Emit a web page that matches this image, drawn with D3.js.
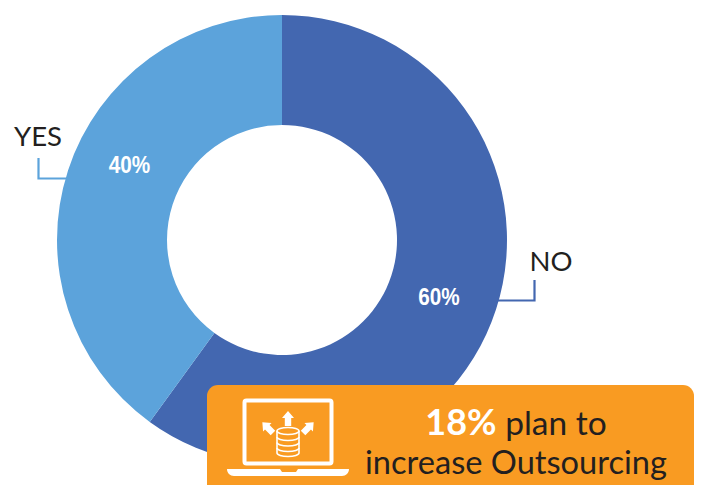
<!DOCTYPE html>
<html>
<head>
<meta charset="utf-8">
<script src="https://cdn.jsdelivr.net/npm/d3@7/dist/d3.min.js"></script>
<style>
  html, body { margin: 0; padding: 0; background: #fff; overflow: hidden; }
  svg { display: block; }
  text { font-family: Lato, "Noto Sans", sans-serif; }
</style>
</head>
<body>
<svg id="chart" width="701" height="485"></svg>
<script>
// Survey answers, clockwise from twelve o'clock
const categories = ["NO", "YES"];
const shares = [60, 40];
const sliceColors = ["#4367b0", "#5ca3db"];
const calloutLead = "18%";
const calloutRest = " plan to";
const calloutSecond = "increase Outsourcing";

const svg = d3.select("#chart");
const cx = 282, cy = 240, outer = 225, inner = 115;

const pie = d3.pie().sort(null).value(d => d.value);
const arc = d3.arc().innerRadius(inner).outerRadius(outer);
const slices = pie(categories.map((name, i) => ({ name, value: shares[i] })));

const ring = svg.append("g").attr("transform", `translate(${cx},${cy})`);
ring.selectAll("path")
  .data(slices)
  .join("path")
  .attr("d", arc)
  .attr("fill", (d, i) => sliceColors[i]);

// Elbow leaders and category names
const leaders = [
  { name: "NO", color: sliceColors[0], path: "M497,300.5H534.5V280", x: 551, y: 271 },
  { name: "YES", color: sliceColors[1], path: "M68,178.5H38.5V158", x: 38, y: 146 }
];
leaders.forEach(l => {
  svg.append("path").attr("d", l.path).attr("fill", "none")
    .attr("stroke", l.color).attr("stroke-width", 2.2);
  svg.append("text").attr("x", l.x).attr("y", l.y)
    .attr("text-anchor", "middle").attr("font-size", 27.5).attr("fill", "#231f20")
    .text(l.name);
});

// Percentage labels on the ring
const pctPos = { NO: [439, 305], YES: [129.5, 173] };
categories.forEach((name, i) => {
  const [x, y] = pctPos[name];
  svg.append("text")
    .attr("transform", `translate(${x},${y}) scale(0.9,1)`)
    .attr("text-anchor", "middle")
    .attr("fill", "#fff")
    .attr("font-size", 23)
    .attr("font-weight", 700)
    .style("font-family", "'Liberation Sans', sans-serif")
    .text(shares[i] + "%");
});

// Orange callout, running off the bottom edge
svg.append("rect")
  .attr("x", 207).attr("y", 385).attr("width", 487).attr("height", 130)
  .attr("rx", 11).attr("fill", "#f99b22");

const line1 = svg.append("text")
  .attr("x", 516).attr("y", 435)
  .attr("text-anchor", "middle").attr("font-size", 33.5).attr("fill", "#231f20");
line1.append("tspan").attr("fill", "#fff").attr("font-weight", 700).attr("font-size", 36).text(calloutLead);
line1.append("tspan").text(calloutRest);
svg.append("text")
  .attr("x", 516).attr("y", 474)
  .attr("text-anchor", "middle").attr("font-size", 32.6).attr("fill", "#231f20")
  .text(calloutSecond);

// Laptop with a database sending arrows outwards
const icon = svg.append("g");
icon.append("rect").attr("x", 244.5).attr("y", 400.5).attr("width", 87).attr("height", 63)
  .attr("rx", 2).attr("fill", "none").attr("stroke", "#fff").attr("stroke-width", 4);
icon.append("path")
  .attr("d", "M227,469H280L282,472H296L298,469H349C349,473 346,476 342,476H234C230,476 227,473 227,469Z")
  .attr("fill", "#fff");

const dbX = 288, dbW = 11, dbTop = 431;
const db = icon.append("g").attr("fill", "none").attr("stroke", "#fff").attr("stroke-width", 1.6);
db.append("ellipse").attr("cx", dbX).attr("cy", dbTop).attr("rx", dbW).attr("ry", 3.5);
db.append("path").attr("d",
  `M${dbX - dbW},${dbTop}V${dbTop + 22}A${dbW},3.5 0 0 0 ${dbX + dbW},${dbTop + 22}V${dbTop}`);
[6, 11.5, 17].forEach(dy => {
  db.append("path").attr("d", `M${dbX - dbW},${dbTop + dy}A${dbW},3.5 0 0 0 ${dbX + dbW},${dbTop + dy}`);
});

const arrow = "M0,-8L6,-1H3.2V7H-3.2V-1H-6Z";
[[288, 419, 0], [268, 428, -45], [308, 428, 45]].forEach(([x, y, r]) => {
  icon.append("path").attr("d", arrow).attr("fill", "#fff")
    .attr("transform", `translate(${x},${y}) rotate(${r})`);
});
</script>
</body>
</html>
